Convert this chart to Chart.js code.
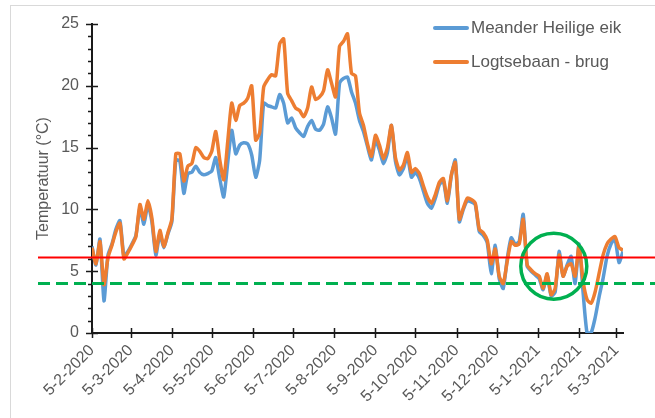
<!DOCTYPE html>
<html>
<head>
<meta charset="utf-8">
<script src="https://cdn.jsdelivr.net/npm/chart.js@4.4.1/dist/chart.umd.min.js"></script>
<style>
    html, body { margin: 0; padding: 0; background: #fff; overflow: hidden; }
    #wrap { position: relative; width: 655px; height: 418px; }
    #frame { position: absolute; left: 10px; top: 5px; width: 700px; height: 460px; border: 1px solid #d9d9d9; box-sizing: border-box; }
    #myChart { position: absolute; left: 0; top: 0; }
    #legend { position: absolute; left: 433px; top: 11px; font-family: "Liberation Sans", Arial, sans-serif; font-size: 17px; color: #595959; }
    .item { display: flex; align-items: center; height: 34px; }
    .swatch { width: 36px; height: 4px; border-radius: 2px; margin-right: 2px; }
</style>
</head>
<body>
<div id="wrap">
    <div id="frame"></div>
    <canvas id="myChart" width="655" height="418"></canvas>
    <div id="legend"></div>
</div>
<script>
// first measurement day, one value every stepDays days
const startDate = '2020-02-05';
const stepDays = 3;

const meanderTemps = [
    7.0, 5.5, 7.6, 2.6, 6.3, 7.2, 8.4, 9.1, 6.2, 6.6,
    7.2, 7.9, 10.1, 8.8, 10.4, 9.0, 6.3, 8.0, 6.9, 8.0,
    9.0, 14.0, 13.9, 11.3, 12.9, 13.0, 13.5, 13.0, 12.8, 12.9,
    13.1, 14.2, 12.5, 11.0, 13.8, 16.4, 14.5, 15.2, 15.4, 15.3,
    14.4, 12.6, 14.0, 18.6, 18.4, 18.3, 18.2, 19.3, 18.6, 17.0,
    17.4, 16.6, 16.2, 15.9, 16.7, 17.2, 16.5, 16.4, 16.9, 18.3,
    17.4, 16.1, 20.2, 20.6, 20.7, 19.5, 18.6, 17.2, 16.3, 15.1,
    14.0, 15.6, 14.8, 13.7, 14.6, 16.8, 13.9, 12.8, 13.3, 14.3,
    12.6, 13.0, 12.5, 11.5, 10.5, 10.1, 10.9, 12.0, 12.3, 10.5,
    12.7, 14.0, 9.0, 10.0, 10.7, 10.6, 10.4, 8.2, 7.9, 7.3,
    4.8, 7.1, 4.4, 3.6, 6.0, 7.7, 7.2, 7.4, 9.6, 5.4,
    5.0, 4.7, 4.4, 3.5, 4.7, 3.0, 3.3, 6.6, 4.6, 5.5,
    6.2, 4.0, 7.2, 3.3, 0.0, 0.0, 1.2, 2.9, 4.4, 6.2,
    7.2, 7.6, 5.7, 6.6
];

const logtsebaanTemps = [
    6.9, 5.6, 7.4, 3.9, 6.1, 7.1, 8.2, 8.9, 6.0, 6.5,
    7.1, 7.8, 10.4, 9.2, 10.7, 9.3, 6.6, 8.3, 7.0, 8.1,
    9.2, 14.5, 14.5, 12.3, 13.5, 13.7, 15.0, 14.7, 14.2, 14.1,
    14.7, 16.3, 14.0, 12.4, 15.5, 18.6, 17.2, 18.4, 18.6, 19.0,
    20.0, 15.6, 16.2, 19.9, 20.5, 20.9, 20.8, 23.4, 23.8, 19.4,
    18.8, 18.2, 18.0, 17.5, 18.2, 19.9, 18.9, 19.1, 19.6, 21.3,
    20.2, 19.1, 23.2, 23.6, 24.2, 21.0, 20.8, 17.8, 16.8, 15.3,
    14.3, 16.0, 15.2, 14.1, 15.0, 16.8, 14.2, 13.2, 13.6, 14.6,
    13.0, 13.3, 12.9, 11.9, 11.0, 10.5, 11.2, 12.2, 12.5, 10.7,
    12.8, 13.8, 9.2, 10.1, 10.9, 10.8, 10.5, 8.4, 8.1, 7.5,
    5.6, 6.8, 4.6, 4.0, 5.8, 7.4, 7.1, 7.2, 9.2, 5.5,
    5.1, 4.8, 4.6, 3.6, 4.8, 3.1, 3.6, 6.3, 4.6, 5.4,
    5.6, 4.6, 7.1, 4.2, 2.7, 2.4, 3.3, 4.8, 6.3, 7.2,
    7.6, 7.8, 6.9, 6.7
];

const seriesNames = ['Meander Heilige eik', 'Logtsebaan - brug'];
const tickDates = [
    '2020-02-05', '2020-03-05', '2020-04-05', '2020-05-05', '2020-06-05', '2020-07-05', '2020-08-05',
    '2020-09-05', '2020-10-05', '2020-11-05', '2020-12-05', '2021-01-05', '2021-02-05', '2021-03-05'
];
const yTicks = [0, 5, 10, 15, 20, 25];

// reference levels and marked period
const redLimit = 6.1;
const greenLimit = 4;
const circleDate = '2021-01-17';
const circleTemp = 5.4;

const blue = '#5b9bd5';
const orange = '#ed7d31';
const axisColor = '#1a1a1a';
const textColor = '#595959';
const fontFamily = '"Liberation Sans", Arial, sans-serif';

const DAY = 86400000;
function dayOffset(iso) {
    return Math.round((Date.parse(iso) - Date.parse(startDate)) / DAY);
}
function dateLabel(iso) {
    const [y, m, d] = iso.split('-').map(Number);
    return `${d}-${m}-${y}`;
}
function toPoints(values) {
    return values.map((v, i) => ({ x: i * stepDays, y: v }));
}

const tickOffsets = tickDates.map(dayOffset);
const labelByOffset = {};
tickDates.forEach(d => { labelByOffset[dayOffset(d)] = dateLabel(d); });
const lastDay = (meanderTemps.length - 1) * stepDays;

// axis tick marks that cross the axis line, plus minor ticks on y
const crossTicks = {
    id: 'crossTicks',
    afterDraw(chart) {
        const { ctx, scales: { x, y } } = chart;
        ctx.save();
        ctx.strokeStyle = axisColor;
        ctx.lineWidth = 1.5;
        ctx.beginPath();
        const ax = x.left;
        for (let v = yTicks[0]; v <= yTicks[yTicks.length - 1]; v++) {
            const py = Math.round(y.getPixelForValue(v)) + 0.5;
            const major = yTicks.includes(v);
            ctx.moveTo(ax - (major ? 6 : 4), py);
            ctx.lineTo(major ? ax + 6 : ax, py);
        }
        const ay = y.bottom;
        tickOffsets.forEach(t => {
            const px = Math.round(x.getPixelForValue(t)) + 0.5;
            ctx.moveTo(px, ay - 5);
            ctx.lineTo(px, ay + 5);
        });
        ctx.stroke();
        ctx.restore();
    }
};

// horizontal reference lines across the whole figure
const limitLines = {
    id: 'limitLines',
    afterDatasetsDraw(chart) {
        const { ctx, scales: { y } } = chart;
        ctx.save();
        let py = y.getPixelForValue(redLimit);
        ctx.strokeStyle = '#ff0000';
        ctx.lineWidth = 2;
        ctx.beginPath();
        ctx.moveTo(38, py);
        ctx.lineTo(chart.width, py);
        ctx.stroke();

        py = y.getPixelForValue(greenLimit);
        ctx.strokeStyle = '#00b050';
        ctx.lineWidth = 3;
        ctx.setLineDash([12, 6]);
        ctx.beginPath();
        ctx.moveTo(38, py);
        ctx.lineTo(chart.width, py);
        ctx.stroke();
        ctx.restore();
    }
};

const ctx = document.getElementById('myChart').getContext('2d');
const chart = new Chart(ctx, {
    type: 'line',
    data: {
        datasets: [
            {
                label: seriesNames[0],
                data: toPoints(meanderTemps),
                borderColor: blue,
                borderWidth: 3.5,
                pointRadius: 0,
                tension: 0.2,
                order: 2
            },
            {
                label: seriesNames[1],
                data: toPoints(logtsebaanTemps),
                borderColor: orange,
                borderWidth: 3.5,
                pointRadius: 0,
                tension: 0.2,
                order: 1
            },
            {
                type: 'scatter',
                label: 'marker',
                data: [{ x: dayOffset(circleDate), y: circleTemp }],
                pointRadius: 33,
                pointBorderWidth: 3.5,
                pointBorderColor: '#00b050',
                pointBackgroundColor: 'rgba(0,0,0,0)',
                clip: false,
                order: 0
            }
        ]
    },
    options: {
        responsive: false,
        animation: false,
        // the big ring marker must not push the plot box inwards
        layout: { autoPadding: false, padding: { top: 24, right: 32, left: 0, bottom: 0 } },
        plugins: {
            legend: { display: false },
            tooltip: { enabled: false }
        },
        scales: {
            x: {
                type: 'linear',
                min: 0,
                max: lastDay,
                grid: { display: false, drawTicks: false },
                border: { display: true, color: axisColor, width: 2 },
                afterBuildTicks: scale => {
                    scale.ticks = tickOffsets.map(v => ({ value: v }));
                },
                afterFit: scale => { scale.height = 85; },
                ticks: {
                    autoSkip: false,
                    minRotation: 45,
                    maxRotation: 45,
                    padding: 8,
                    color: textColor,
                    font: { family: fontFamily, size: 16 },
                    callback: v => labelByOffset[v] || ''
                }
            },
            y: {
                min: 0,
                max: 25,
                grid: { display: false, drawTicks: false },
                border: { display: true, color: axisColor, width: 2 },
                afterFit: scale => { scale.width = 92; },
                ticks: {
                    stepSize: 5,
                    padding: 13,
                    color: textColor,
                    font: { family: fontFamily, size: 16 }
                },
                title: {
                    display: true,
                    text: 'Temperatuur (°C)',
                    color: textColor,
                    font: { family: fontFamily, size: 16 },
                    padding: { top: 34, bottom: 0 }
                }
            }
        }
    },
    plugins: [crossTicks, limitLines]
});

// legend for the two measurement series
const legendEl = document.getElementById('legend');
chart.data.datasets.slice(0, 2).forEach(ds => {
    const row = document.createElement('div');
    row.className = 'item';
    row.innerHTML = `<span class="swatch" style="background:${ds.borderColor}"></span><span>${ds.label}</span>`;
    legendEl.appendChild(row);
});
</script>
</body>
</html>
